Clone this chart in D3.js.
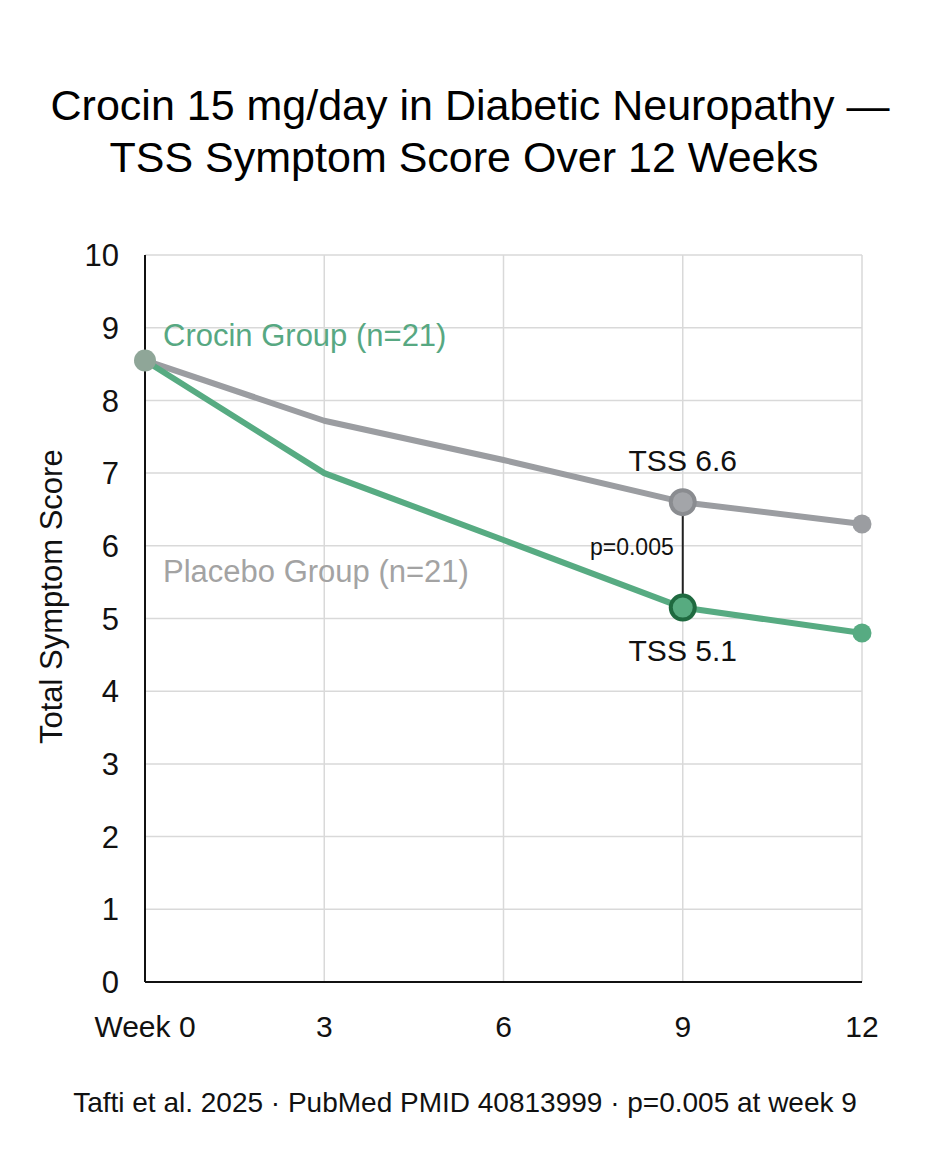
<!DOCTYPE html>
<html>
<head>
<meta charset="utf-8">
<script src="https://cdn.jsdelivr.net/npm/d3@7"></script>
<style>
  body { margin: 0; background: #fff; }
  text { font-family: "Liberation Sans", Arial, sans-serif; }
</style>
</head>
<body>
<div class="chart"></div>
<script>
(function() {
  // data
  var weeks = [0, 3, 6, 9, 12];
  var weekLabels = ["Week 0", "3", "6", "9", "12"];
  var crocin = [8.55, 7.0, 6.08, 5.15, 4.8];
  var placebo = [8.55, 7.72, 7.18, 6.6, 6.3];
  var yTicks = [0, 1, 2, 3, 4, 5, 6, 7, 8, 9, 10];

  var width = 928, height = 1152,
    margin = {top: 255, left: 145, right: 66, bottom: 170};

  var svg = d3.select(".chart").append("svg")
    .attr("width", width)
    .attr("height", height);

  var x = d3.scaleLinear().domain([0, 12]).range([margin.left, width - margin.right]);
  var y = d3.scaleLinear().domain([0, 10]).range([height - margin.bottom, margin.top]);

  // title
  svg.append("text").attr("x", 470).attr("y", 120).attr("text-anchor", "middle")
    .style("font-size", "43px").text("Crocin 15 mg/day in Diabetic Neuropathy \u2014");
  svg.append("text").attr("x", 464).attr("y", 172).attr("text-anchor", "middle")
    .style("font-size", "43px").text("TSS Symptom Score Over 12 Weeks");

  // grid
  svg.append("g").selectAll("line").data(yTicks.slice(1)).enter().append("line")
    .attr("x1", x(0)).attr("x2", x(12))
    .attr("y1", function(d) { return y(d); }).attr("y2", function(d) { return y(d); })
    .attr("stroke", "#d9d9d9").attr("stroke-width", 1.5);
  svg.append("g").selectAll("line").data(weeks.slice(1)).enter().append("line")
    .attr("x1", function(d) { return x(d); }).attr("x2", function(d) { return x(d); })
    .attr("y1", y(0)).attr("y2", y(10))
    .attr("stroke", "#d9d9d9").attr("stroke-width", 1.5);

  // axes
  svg.append("line").attr("x1", x(0)).attr("x2", x(0)).attr("y1", y(0)).attr("y2", y(10))
    .attr("stroke", "#111").attr("stroke-width", 2);
  svg.append("line").attr("x1", x(0)).attr("x2", x(12)).attr("y1", y(0)).attr("y2", y(0))
    .attr("stroke", "#111").attr("stroke-width", 2);

  svg.append("g").selectAll("text").data(yTicks).enter().append("text")
    .attr("x", 119).attr("y", function(d) { return y(d); }).attr("dy", "0.36em")
    .attr("text-anchor", "end").style("font-size", "31px").attr("fill", "#111")
    .text(function(d) { return d; });

  svg.append("g").selectAll("text").data(weeks).enter().append("text")
    .attr("x", function(d) { return x(d); }).attr("y", 1037)
    .attr("text-anchor", "middle").style("font-size", "30px").attr("fill", "#111")
    .text(function(d, i) { return weekLabels[i]; });

  svg.append("text").attr("transform", "translate(62," + y(5.3) + ") rotate(-90)")
    .attr("text-anchor", "middle").style("font-size", "31px").attr("fill", "#111")
    .text("Total Symptom Score");

  // lines
  var line = d3.line()
    .x(function(d, i) { return x(weeks[i]); })
    .y(function(d) { return y(d); });

  svg.append("path").attr("d", line(placebo)).attr("fill", "none")
    .attr("stroke", "#9b9da1").attr("stroke-width", 6).attr("stroke-linejoin", "round");
  svg.append("path").attr("d", line(crocin)).attr("fill", "none")
    .attr("stroke", "#57ab82").attr("stroke-width", 6).attr("stroke-linejoin", "round");

  // p-value connector
  svg.append("line").attr("x1", x(9)).attr("x2", x(9)).attr("y1", y(placebo[3])).attr("y2", y(crocin[3]))
    .attr("stroke", "#222").attr("stroke-width", 2);
  svg.append("text").attr("x", x(9) - 9).attr("y", 555).attr("text-anchor", "end")
    .style("font-size", "23px").attr("fill", "#111").text("p=0.005");

  // markers
  svg.append("circle").attr("cx", x(0)).attr("cy", y(placebo[0])).attr("r", 11).attr("fill", "#8fa698");
  svg.append("circle").attr("cx", x(12)).attr("cy", y(placebo[4])).attr("r", 9.5).attr("fill", "#9b9da1");
  svg.append("circle").attr("cx", x(12)).attr("cy", y(crocin[4])).attr("r", 9.5).attr("fill", "#57ab82");
  svg.append("circle").attr("cx", x(9)).attr("cy", y(placebo[3])).attr("r", 12)
    .attr("fill", "#a3a5a9").attr("stroke", "#8a8c90").attr("stroke-width", 4);
  svg.append("circle").attr("cx", x(9)).attr("cy", y(crocin[3])).attr("r", 12)
    .attr("fill", "#57ab80").attr("stroke", "#1f6a40").attr("stroke-width", 4);

  // labels
  svg.append("text").attr("x", x(9)).attr("y", 471).attr("text-anchor", "middle")
    .style("font-size", "30px").attr("fill", "#111").text("TSS 6.6");
  svg.append("text").attr("x", x(9)).attr("y", 661).attr("text-anchor", "middle")
    .style("font-size", "30px").attr("fill", "#111").text("TSS 5.1");

  svg.append("text").attr("x", 163).attr("y", 346)
    .style("font-size", "31px").attr("fill", "#57a882").text("Crocin Group (n=21)");
  svg.append("text").attr("x", 163).attr("y", 582)
    .style("font-size", "31px").attr("fill", "#a3a3a3").text("Placebo Group (n=21)");

  // footnote
  svg.append("text").attr("x", 465).attr("y", 1112).attr("text-anchor", "middle")
    .style("font-size", "28px").attr("fill", "#111")
    .text("Tafti et al. 2025 \u00b7 PubMed PMID 40813999 \u00b7 p=0.005 at week 9");
})();
</script>
</body>
</html>
